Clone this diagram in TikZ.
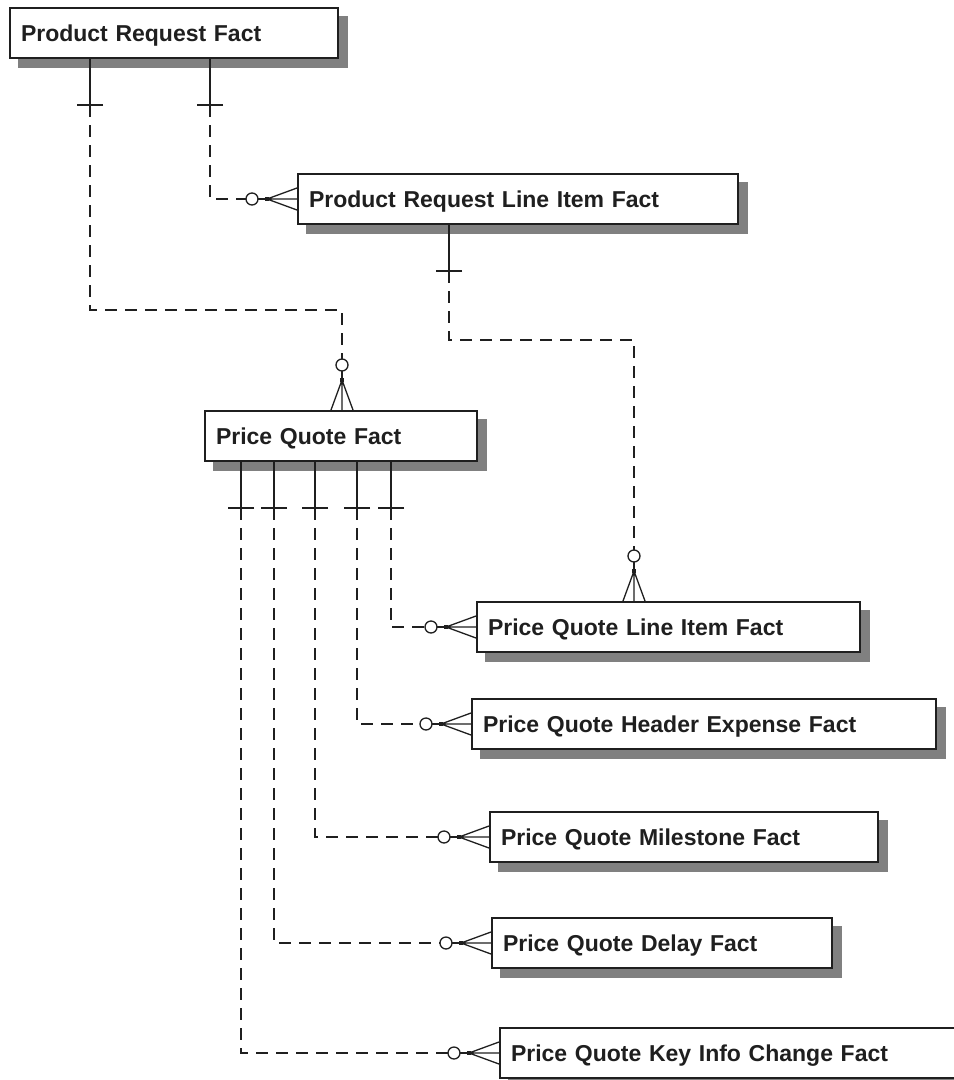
\documentclass[tikz,border=0pt]{standalone}
\usepackage{fontspec}
\setmainfont{Liberation Sans}
\usetikzlibrary{backgrounds,calc}
\definecolor{shadowc}{gray}{0.5}
\definecolor{ink}{gray}{0.12}
\tikzset{
  ent/.style={draw=ink, line width=2pt, fill=white, anchor=north west,
    minimum height=50pt, inner xsep=11pt, inner ysep=0pt, align=left,
    font=\fontsize{23}{23}\selectfont\bfseries, text height=16.5pt, text depth=0pt, text=ink},
  rel/.style={line width=1.6pt, draw=ink},
  dsh/.style={rel, dash pattern=on 12pt off 8pt},
  pics/onemark/.style={code={
    \draw[rel] (0,0) -- (46,0);
    \draw[rel] (46,-13) -- (46,13);
  }},
  pics/manymark/.style={code={
    \draw[rel, line width=1.3pt] (0,-11) -- (30,0) (0,0) -- (30,0) (0,11) -- (30,0);
    \fill[ink] (28,-2) rectangle (32,2);
    \draw[rel] (30,0) -- (39,0);
    \draw[rel, line width=1.3pt, fill=white] (45,0) circle[radius=6pt];
  }},
}
\begin{document}
\begin{tikzpicture}[x=1pt, y=-1pt]
\clip (0,0) rectangle (954,1080);
% entities
\node[ent, text width=306pt] (prf)  at (9,7)    {Product Request Fact};
\node[ent, text width=418pt] (prli) at (297,173) {Product Request Line Item Fact};
\node[ent, text width=250pt] (pq)   at (204,410) {Price Quote Fact};
\node[ent, text width=361pt] (pqli) at (476,601) {Price Quote Line Item Fact};
\node[ent, text width=442pt] (pqhe) at (471,698) {Price Quote Header Expense Fact};
\node[ent, text width=366pt] (pqm)  at (489,811) {Price Quote Milestone Fact};
\node[ent, text width=318pt] (pqd)  at (491,917) {Price Quote Delay Fact};
\node[ent, text width=439pt] (pqk)  at (499,1027) {Price Quote Key Info Change Fact};
% shadows
\begin{scope}[on background layer]
\foreach \n in {prf,prli,pq,pqli,pqhe,pqm,pqd,pqk}{
  \fill[shadowc] ([shift={(9pt,-9pt)}]\n.north west) rectangle ([shift={(9pt,-9pt)}]\n.south east);
}
\end{scope}
% x positions of connectors
\foreach \n/\x in {xa/90, xb/210, xc/449, xd/342, xe/634, xf/241, xg/274, xh/315, xi/357, xj/391}{
  \coordinate (\n) at (\x,0);
}
% dashed connector bodies
\draw[dsh] ($(prf.south -| xa)+(0,46)$) |- ($(pq.north -| xd)+(0,-100)$) -- ($(pq.north -| xd)+(0,-51)$);
\draw[dsh] ($(prf.south -| xb)+(0,46)$) |- ($(prli.west)+(-51,0)$);
\draw[dsh] ($(prli.south -| xc)+(0,46)$) |- ($(pqli.north -| xe)+(0,-261)$) -- ($(pqli.north -| xe)+(0,-51)$);
\draw[dsh] ($(pq.south -| xj)+(0,46)$) |- ($(pqli.west)+(-51,0)$);
\draw[dsh] ($(pq.south -| xi)+(0,46)$) |- ($(pqhe.west)+(-51,0)$);
\draw[dsh] ($(pq.south -| xh)+(0,46)$) |- ($(pqm.west)+(-51,0)$);
\draw[dsh] ($(pq.south -| xg)+(0,46)$) |- ($(pqd.west)+(-51,0)$);
\draw[dsh] ($(pq.south -| xf)+(0,46)$) |- ($(pqk.west)+(-51,0)$);
% one ends
\pic[rotate=-90] at (prf.south -| xa) {onemark};
\pic[rotate=-90] at (prf.south -| xb) {onemark};
\pic[rotate=-90] at (prli.south -| xc) {onemark};
\foreach \c in {xf,xg,xh,xi,xj}{
  \pic[rotate=-90] at (pq.south -| \c) {onemark};
}
% many ends
\pic[rotate=90] at (pq.north -| xd) {manymark};
\pic[rotate=90] at (pqli.north -| xe) {manymark};
\foreach \n in {prli,pqli,pqhe,pqm,pqd,pqk}{
  \pic[rotate=180] at (\n.west) {manymark};
}
\end{tikzpicture}
\end{document}
